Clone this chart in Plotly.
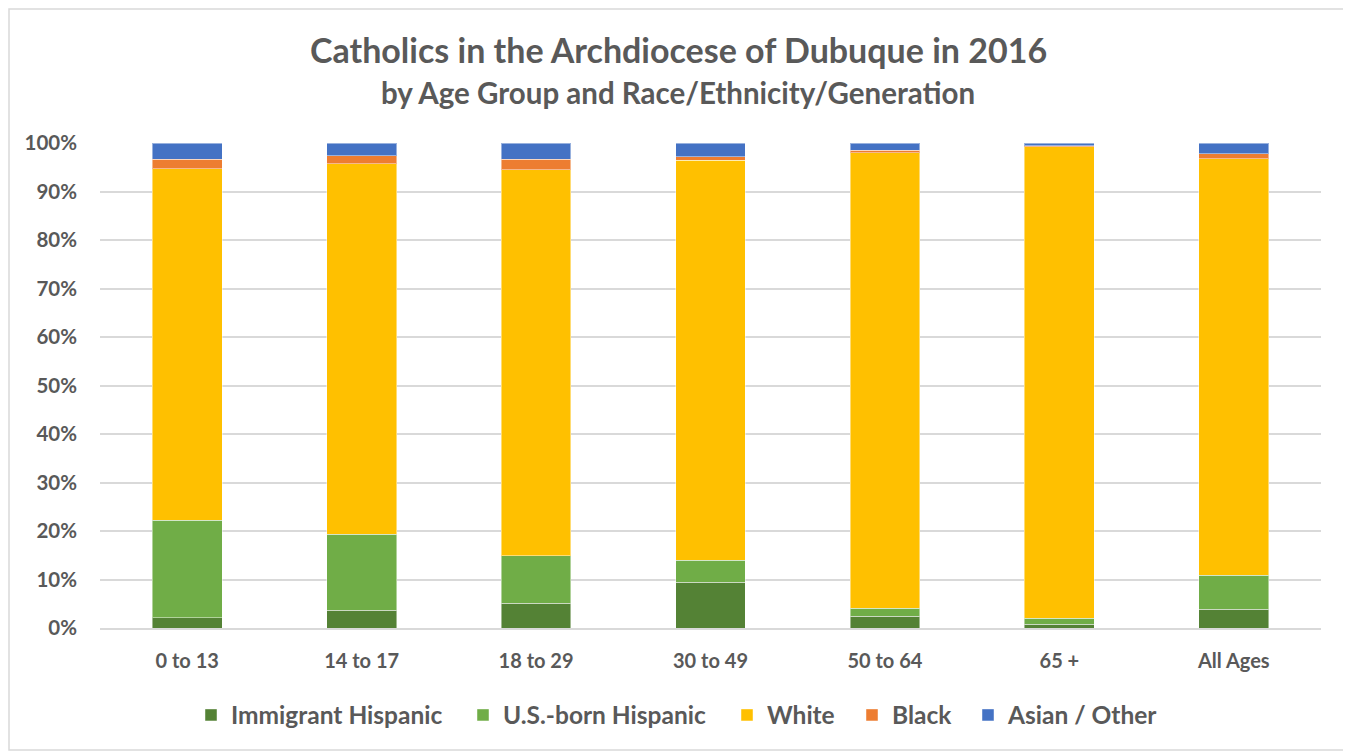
import plotly.graph_objects as go

categories = ["0 to 13", "14 to 17", "18 to 29", "30 to 49", "50 to 64", "65 +", "All Ages"]
immigrant_hispanic = [2.1, 3.7, 5.1, 9.4, 2.4, 0.8, 3.9]
us_born_hispanic = [20.1, 15.6, 9.8, 4.6, 1.7, 1.2, 7.0]
white = [72.5, 76.4, 79.6, 82.4, 93.9, 97.2, 85.9]
black = [1.9, 1.7, 2.1, 0.8, 0.5, 0.2, 1.0]
asian_other = [3.4, 2.6, 3.4, 2.8, 1.5, 0.6, 2.2]

series_names = ["Immigrant Hispanic", "U.S.-born Hispanic", "White", "Black", "Asian / Other"]
series_values = [immigrant_hispanic, us_born_hispanic, white, black, asian_other]
colors = ["#548235", "#70AD47", "#FFC000", "#ED7D31", "#4472C4"]

tick_vals = [0, 10, 20, 30, 40, 50, 60, 70, 80, 90, 100]
tick_text = [f"{v}%" for v in tick_vals]

title_text = "Catholics in the Archdiocese of Dubuque in 2016"
subtitle_text = "by Age Group and Race/Ethnicity/Generation"

FONT = "Lato"
GRAY = "#595959"
W, H = 1343, 743
L, R, T, B = 92, 30, 135, 123
PW, PH = W - L - R, H - T - B

# screen x where each legend entry's text begins
legend_text_x = [231, 503, 767, 892, 1008]
LEG_OFFSET = 40

fig = go.Figure()
legend_layouts = {}
for i, (name, vals, col) in enumerate(zip(series_names, series_values, colors)):
    lname = "legend" if i == 0 else f"legend{i + 1}"
    fig.add_trace(go.Bar(
        x=categories, y=vals, name=name, legend=lname,
        marker=dict(color=col, line=dict(color="rgba(255,255,255,0.45)", width=1)),
    ))
    legend_layouts[lname] = dict(
        orientation="h", xref="container", yref="container",
        x=(legend_text_x[i] - 8 - LEG_OFFSET) / W, xanchor="left",
        y=1 - (715 - 8) / H, yanchor="middle",
        font=dict(family=FONT, size=24.5, color=GRAY, weight="bold"),
        itemwidth=30, bgcolor="rgba(0,0,0,0)",
    )

fig.update_layout(
    barmode="stack",
    bargap=0.6,
    width=W, height=H,
    paper_bgcolor="white", plot_bgcolor="white",
    margin=dict(l=L, r=R, t=T, b=B),
    font=dict(family=FONT, color=GRAY),
    showlegend=True,
    xaxis=dict(
        showgrid=False, showline=True, linecolor="#D9D9D9", linewidth=1.5,
        tickfont=dict(family=FONT, size=20, color=GRAY, weight="bold"),
        ticklabelstandoff=14,
    ),
    yaxis=dict(
        range=[0, 100], tickvals=tick_vals, ticktext=tick_text,
        showgrid=True, gridcolor="#D9D9D9", gridwidth=1.5,
        zeroline=False, showline=False,
        tickfont=dict(family=FONT, size=20.5, color=GRAY, weight="bold"),
        ticklabelstandoff=22,
    ),
    annotations=[
        dict(text=title_text, xref="paper", yref="paper",
             x=(678 - 8 - L) / PW, y=1 + (T - (49 - 8)) / PH, xanchor="center", yanchor="middle",
             showarrow=False, font=dict(family=FONT, size=34, color=GRAY, weight="bold")),
        dict(text=subtitle_text, xref="paper", yref="paper",
             x=(678 - 8 - L) / PW, y=1 + (T - (93 - 8)) / PH, xanchor="center", yanchor="middle",
             showarrow=False, font=dict(family=FONT, size=29.5, color=GRAY, weight="bold")),
    ],
    shapes=[dict(type="rect", xref="paper", yref="paper",
                 x0=-(L - 1) / PW, x1=1 + (1348 - 8 - (W - R)) / PW,
                 y0=-(B - 1) / PH, y1=1 + (T - 1) / PH,
                 line=dict(color="#D9D9D9", width=1.5), fillcolor="rgba(0,0,0,0)", layer="below")],
    **legend_layouts,
)
fig.update_traces(hovertemplate="%{x}: %{y}%<extra>%{fullData.name}</extra>")

fig.write_html("out.html")
